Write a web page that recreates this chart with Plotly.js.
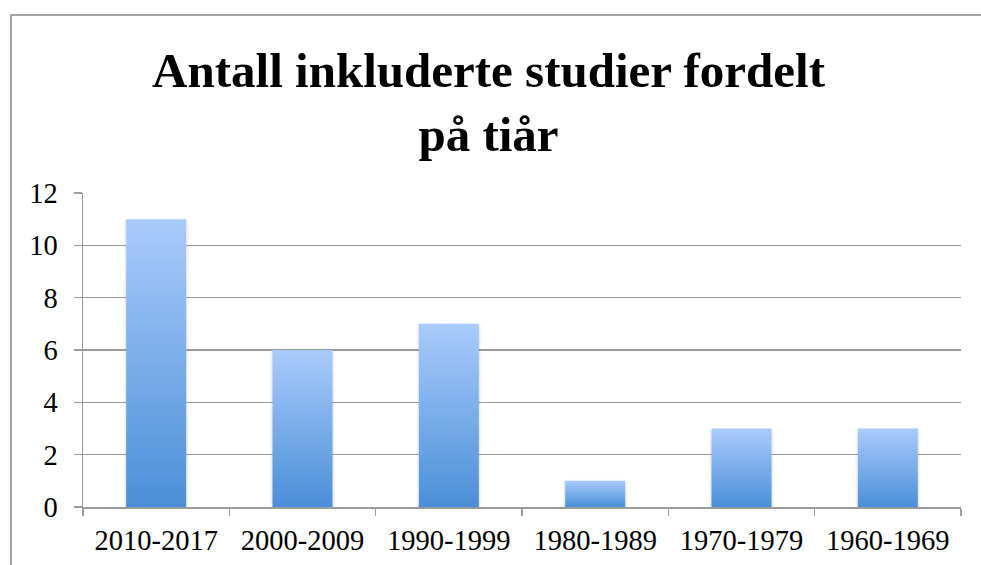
<!DOCTYPE html>
<html>
<head>
<meta charset="utf-8">
<script src="https://cdn.plot.ly/plotly-3.0.1.min.js"></script>
<style>
  html, body { margin: 0; padding: 0; width: 981px; height: 565px; overflow: hidden; background: #fff; }
  #frame { position: absolute; left: 10px; top: 14px; width: 2000px; height: 2000px;
           border-left: 2px solid #a3a3a3; border-top: 2px solid #a3a3a3; box-sizing: border-box; }
  #chart { position: absolute; left: 0; top: 0; width: 981px; height: 565px; }
</style>
</head>
<body>
<div id="frame"></div>
<div id="chart"></div>
<script>
const categories = ['2010-2017', '2000-2009', '1990-1999', '1980-1989', '1970-1979', '1960-1969'];
const studyCounts = [11, 6, 7, 1, 3, 3];
const yTickValues = [0, 2, 4, 6, 8, 10, 12];
const chartTitle = 'Antall inkluderte studier fordelt<br>på tiår';

const gridColor = '#9b9b9b';
const labelFont = { family: 'Liberation Serif, Times New Roman, serif', size: 28.5, color: '#000' };

const trace = {
  type: 'bar',
  x: categories,
  y: studyCounts,
  marker: { color: '#78aae8', line: { width: 0 } },
  hoverinfo: 'x+y'
};

const layout = {
  width: 981,
  height: 565,
  paper_bgcolor: 'rgba(0,0,0,0)',
  plot_bgcolor: 'rgba(0,0,0,0)',
  margin: { l: 83, r: 20, t: 193, b: 58 },
  bargap: 0.59,
  showlegend: false,
  title: {
    text: chartTitle,
    x: 0.498,
    xanchor: 'center',
    xref: 'container',
    yref: 'container',
    y: 0.846,
    yanchor: 'top',
    font: { family: 'Liberation Serif, Times New Roman, serif', size: 49, color: '#000', weight: 'bold' }
  },
  xaxis: {
    type: 'category',
    showline: true,
    linecolor: gridColor,
    linewidth: 1.5,
    ticks: 'outside',
    tickson: 'boundaries',
    ticklen: 7,
    tickwidth: 1.5,
    tickcolor: gridColor,
    showgrid: false,
    zeroline: false,
    tickfont: labelFont,
    ticklabelstandoff: 7
  },
  yaxis: {
    range: [0, 12],
    tickvals: yTickValues,
    ticktext: yTickValues.map(String),
    showline: true,
    linecolor: gridColor,
    linewidth: 1.5,
    ticks: 'outside',
    ticklen: 8,
    tickwidth: 1.5,
    tickcolor: gridColor,
    showgrid: true,
    gridcolor: gridColor,
    gridwidth: 1.5,
    zeroline: false,
    tickfont: labelFont,
    ticklabelstandoff: 10
  }
};

Plotly.newPlot('chart', [trace], layout, { displayModeBar: false, staticPlot: true }).then(function (gd) {
  // Apply a vertical gradient and soft shadow to the rendered bars
  const svg = gd.querySelector('svg.main-svg');
  const ns = 'http://www.w3.org/2000/svg';
  let defs = svg.querySelector('defs');
  if (!defs) { defs = document.createElementNS(ns, 'defs'); svg.insertBefore(defs, svg.firstChild); }
  const grad = document.createElementNS(ns, 'linearGradient');
  grad.setAttribute('id', 'barGrad');
  grad.setAttribute('x1', '0'); grad.setAttribute('y1', '0');
  grad.setAttribute('x2', '0'); grad.setAttribute('y2', '1');
  [['0', '#a9cbfb'], ['1', '#4a8fd8']].forEach(function (s) {
    const stop = document.createElementNS(ns, 'stop');
    stop.setAttribute('offset', s[0]);
    stop.setAttribute('stop-color', s[1]);
    grad.appendChild(stop);
  });
  defs.appendChild(grad);
  const filt = document.createElementNS(ns, 'filter');
  filt.setAttribute('id', 'barShadow');
  filt.setAttribute('x', '-20%'); filt.setAttribute('y', '-10%');
  filt.setAttribute('width', '140%'); filt.setAttribute('height', '120%');
  const ds = document.createElementNS(ns, 'feDropShadow');
  ds.setAttribute('dx', '0'); ds.setAttribute('dy', '1.5');
  ds.setAttribute('stdDeviation', '1.5');
  ds.setAttribute('flood-color', '#000'); ds.setAttribute('flood-opacity', '0.25');
  filt.appendChild(ds);
  defs.appendChild(filt);
  gd.querySelectorAll('.barlayer .point path').forEach(function (p) {
    p.style.fill = 'url(#barGrad)';
    p.setAttribute('filter', 'url(#barShadow)');
  });
});
</script>
</body>
</html>
